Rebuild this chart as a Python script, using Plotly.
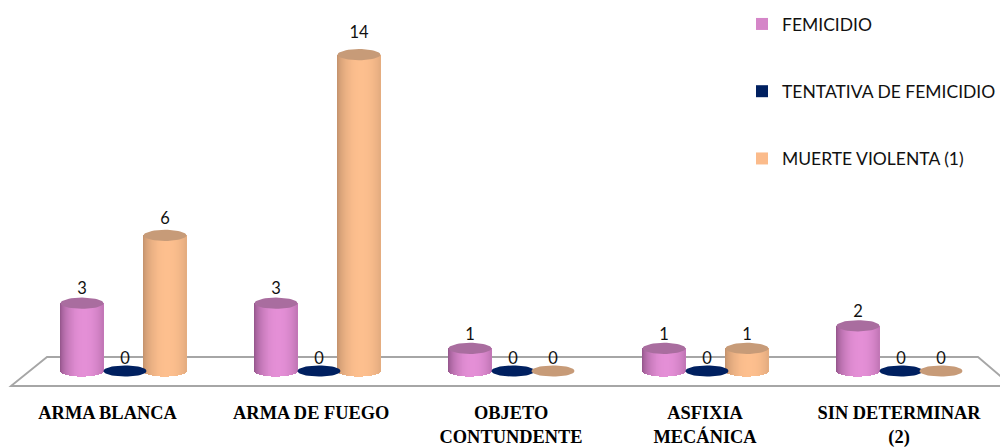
import math
import plotly.graph_objects as go

categories = ["ARMA BLANCA", "ARMA DE FUEGO", "OBJETO<br>CONTUNDENTE", "ASFIXIA<br>MECÁNICA", "SIN DETERMINAR<br>(2)"]
femicidio = [3, 3, 1, 1, 2]
tentativa = [0, 0, 0, 0, 0]
muerte = [6, 14, 0, 1, 0]

W, H = 1000, 447
MB = 67
BASE_PX = 371
PX_UNIT = 22.6
STEP = 194.0
X0 = 125.0
yr = [-(H - MB - BASE_PX) / PX_UNIT, BASE_PX / PX_UNIT]
xr = [-X0 / STEP, (W - X0) / STEP]
HALF = 21.5 / STEP
EH = 5.6 / PX_UNIT
N = 44


def lerp(a, b, t):
    return "rgb(%d,%d,%d)" % tuple(round(a[i] + (b[i] - a[i]) * t) for i in range(3))


series = [
    dict(name="FEMICIDIO", vals=femicidio, off=-43 / STEP, swatch="#d586c8", edge=(140, 80, 132), mid=(228, 143, 214), top="#a96d9f", flat=None),
    dict(name="TENTATIVA DE FEMICIDIO", vals=tentativa, off=0.0, swatch="#002060", edge=(0, 32, 96), mid=(0, 32, 96), top="#002060", flat="#002060"),
    dict(name="MUERTE VIOLENTA (1)", vals=muerte, off=40 / STEP, swatch="#fbbb8b", edge=(190, 142, 106), mid=(253, 191, 142), top="#c79b78", flat="#c79b78"),
]

fig = go.Figure()
for s in series:
    xs, ys, bases, widths, cols = [], [], [], [], []
    for i, v in enumerate(s["vals"]):
        if v <= 0:
            continue
        for k in range(N):
            u = -1 + (2 * k + 1) / N
            bulge = EH * math.sqrt(max(0, 1 - u * u))
            xs.append(i + s["off"] + u * HALF)
            bases.append(-bulge)
            ys.append(v + bulge)
            widths.append(2 * HALF / N * 1.35)
            t = max(0, 1 - ((u - 0.15) / 1.15) ** 2) ** 0.65
            cols.append(lerp(s["edge"], s["mid"], t))
    if xs:
        fig.add_trace(go.Bar(x=xs, y=ys, base=bases, width=widths, marker=dict(color=cols, line=dict(width=0)),
                             showlegend=False, hoverinfo="skip"))
    ex, ey = [], []
    for i, v in enumerate(s["vals"]):
        if v <= 0 and s["flat"] is None:
            continue
        for a in range(49):
            th = 2 * math.pi * a / 48
            ex.append(i + s["off"] + HALF * math.cos(th))
            ey.append(v + EH * math.sin(th))
        ex.append(None)
        ey.append(None)
    fig.add_trace(go.Scatter(x=ex, y=ey, mode="lines", fill="toself", fillcolor=s["top"], line=dict(width=0, color=s["top"]),
                             showlegend=False, hoverinfo="skip"))

for s in series:
    fig.add_trace(go.Scatter(x=[i + s["off"] for i in range(5)], y=[v * 1.03 + EH - 2.5 / PX_UNIT for v in s["vals"]], mode="text",
                             text=[str(v) for v in s["vals"]], textposition="top center",
                             textfont=dict(family="Lato", size=16.5, color="#111"), showlegend=False, hoverinfo="skip"))

for s in series:
    fig.add_trace(go.Scatter(x=[None], y=[None], mode="markers", name=s["name"], legendgroup=s["name"],
                             marker=dict(symbol="square", size=12, color=s["swatch"])))


def paper(px, py):
    return "%.4f %.4f" % (px / W, 1 - py / (H - MB))


floor = "M " + " L ".join(paper(*p) for p in [(11, 386), (47, 357), (978, 357), (1012, 386)]) + " Z"
fig.add_shape(type="path", path=floor, xref="paper", yref="paper", line=dict(color="#a6a6a6", width=1.8), layer="below")

fig.update_layout(
    width=W, height=H, margin=dict(l=0, r=0, t=0, b=MB, autoexpand=False), barmode="overlay", bargap=0,
    paper_bgcolor="white", plot_bgcolor="rgba(0,0,0,0)", hovermode=False,
    legend=dict(x=0.742, y=0.984, xanchor="left", yanchor="top", tracegroupgap=41.5, font=dict(family="Lato", size=17.5, color="#111"),
                bgcolor="rgba(0,0,0,0)", itemwidth=30),
    xaxis=dict(range=xr, tickmode="array", tickvals=[-0.09, 0.96, 1.99, 2.99, 3.99], ticktext=categories, automargin=False,
               ticks="outside", ticklen=16, tickcolor="rgba(0,0,0,0)", showgrid=False, zeroline=False, showline=False,
               tickfont=dict(family="Liberation Serif", size=18.4, color="#000", weight=700), tickangle=0),
    yaxis=dict(range=yr, visible=False, automargin=False),
)
fig.write_html("out.html", config=dict(displayModeBar=False), post_script="document.body.style.margin='0';document.documentElement.style.overflow='hidden';")
